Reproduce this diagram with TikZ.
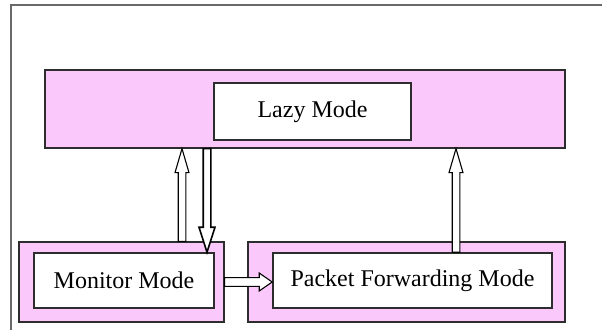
\documentclass[tikz,border=0pt]{standalone}
\usepackage{fontspec}
\setmainfont{Liberation Serif}
\usetikzlibrary{calc}
\definecolor{pinkfill}{RGB}{251,200,251}
\definecolor{framegray}{RGB}{105,105,105}
\definecolor{boxline}{RGB}{45,45,45}
\tikzset{
  ba w/.store in=\baw, ba h/.store in=\bah, ba l/.store in=\bal,
  ba w=3.8pt, ba h=7pt, ba l=24pt,
  blockarr/.style={draw=black, fill=white, line width=1.1pt, line join=miter,
    to path={($(\tikztostart)!\baw!90:(\tikztotarget)$)
      -- ($(\tikztotarget)!\bal!(\tikztostart)!\baw!90:(\tikztotarget)$)
      -- ($(\tikztotarget)!\bal!(\tikztostart)!\bah!90:(\tikztotarget)$)
      -- (\tikztotarget)
      -- ($(\tikztotarget)!\bal!(\tikztostart)!\bah!-90:(\tikztotarget)$)
      -- ($(\tikztotarget)!\bal!(\tikztostart)!\baw!-90:(\tikztotarget)$)
      -- ($(\tikztostart)!\baw!-90:(\tikztotarget)$) -- cycle}},
  outerbox/.style={draw=boxline, fill=pinkfill, line width=1.3pt, rectangle, inner sep=0pt},
  innerbox/.style={draw=boxline, fill=white, line width=1.6pt, rectangle, inner sep=0pt,
    font=\fontsize{24}{28}\selectfont},
}
\begin{document}
\begin{tikzpicture}[x=1pt,y=-1pt]
\useasboundingbox (0,0) rectangle (602,330);
% outer frame
\draw[framegray, line width=1.5pt] (11,330) -- (11,5) -- (602,5);
% boxes
\node[outerbox, minimum width=520pt, minimum height=78pt] (lazyout) at (305,109) {};
\node[innerbox, minimum width=197pt, minimum height=57pt] (lazyin) at (312.5,111.5) {Lazy Mode};
\node[outerbox, minimum width=205pt, minimum height=80pt] (monout) at (121.5,282) {};
\node[innerbox, minimum width=180pt, minimum height=55pt] (monin) at (124,280.5) {Monitor Mode};
\node[outerbox, minimum width=317pt, minimum height=80pt] (packout) at (406.5,282) {};
\node[innerbox, minimum width=279pt, minimum height=55pt] (packin) at (412.5,280.5) {Packet Forwarding Mode};
% arrow end points
\coordinate (a1s) at (182,0 |- monout.north);
\coordinate (a1e) at (182,0 |- lazyout.south);
\coordinate (a2s) at (207,0 |- lazyout.south);
\coordinate (a2e) at (207,0 |- monin.north);
\coordinate (a3s) at (monout.east);
\coordinate (a3e) at (packin.west |- monout.east);
\coordinate (a4s) at (456,0 |- packin.north);
\coordinate (a4e) at (456,0 |- lazyout.south);
% arrows
\draw[blockarr] (a1s) to (a1e);
\draw[blockarr, line width=1.6pt, ba w=3.8pt, ba h=8pt, ba l=25pt] (a2s) to (a2e);
\draw[blockarr, ba w=4.4pt, ba h=9pt, ba l=13pt] (a3s) to (a3e);
\draw[blockarr] (a4s) to (a4e);
\end{tikzpicture}
\end{document}
